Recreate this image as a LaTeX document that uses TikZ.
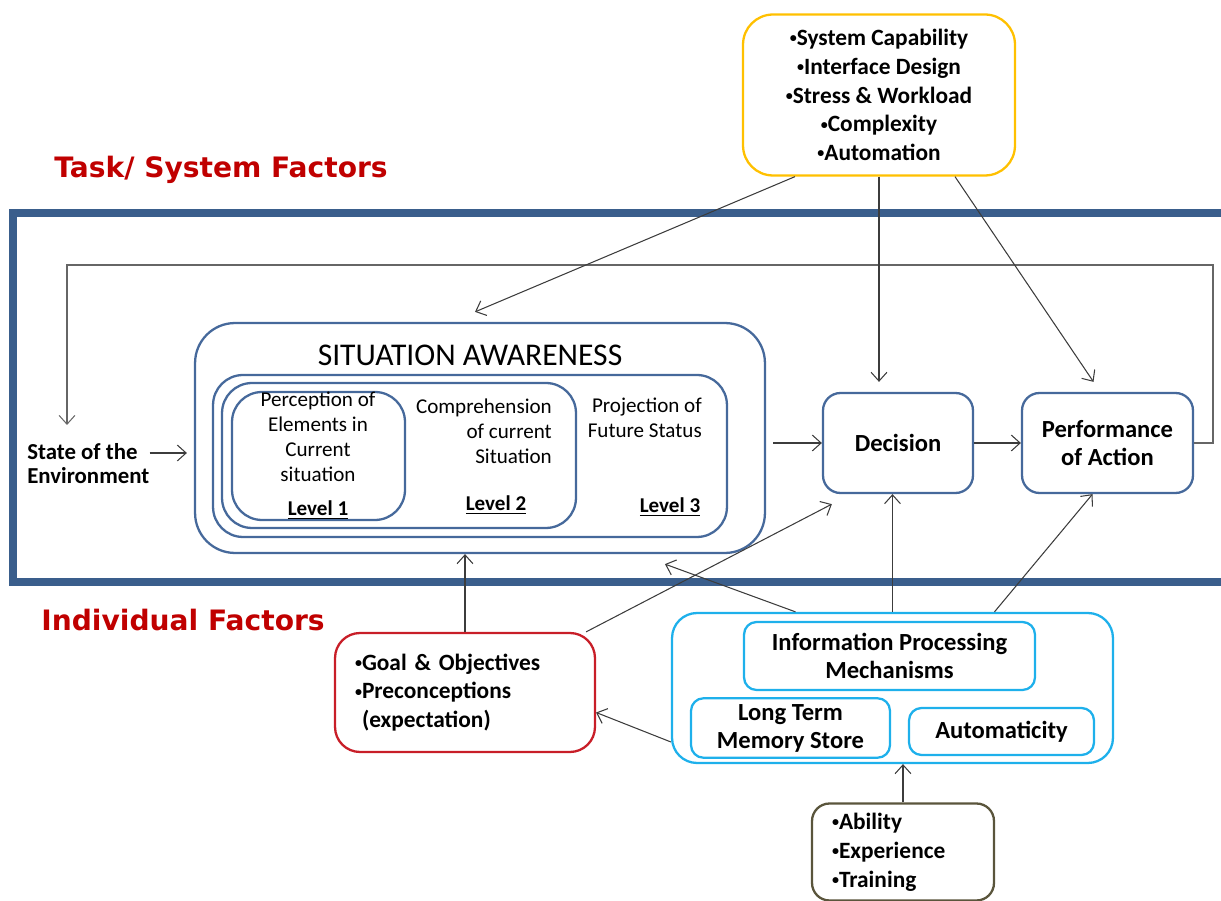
\documentclass[tikz,border=0pt]{standalone}
\usepackage{fontspec}
\setmainfont{Carlito}
\newfontfamily\headfont{DejaVu Sans}
\usetikzlibrary{positioning, arrows.meta}

\definecolor{frameblue}{RGB}{58,94,140}
\definecolor{boxblue}{RGB}{70,105,155}
\definecolor{sysyellow}{RGB}{255,192,0}
\definecolor{indcyan}{RGB}{30,176,235}
\definecolor{goalred}{RGB}{200,30,40}
\definecolor{titlered}{RGB}{192,0,0}
\definecolor{trainbrown}{RGB}{90,85,60}
\definecolor{linegray}{RGB}{60,60,60}

\newcommand{\blt}{\raisebox{1.6pt}{\fontsize{8}{8}\selectfont•}}

\begin{document}
\begin{tikzpicture}[x=0.02cm, y=-0.02cm, >={Straight Barb[length=5pt, width=9pt]},
    roundbox/.style={draw, line width=1.3pt, rounded corners=0.35cm},
    bluebox/.style={roundbox, draw=boxblue},
    cyanbox/.style={roundbox, draw=indcyan, rounded corners=0.25cm},
    levelbox/.style={draw=boxblue, line width=1.3pt, rounded corners=0.6cm},
    leveltext/.style={font=\fontsize{12}{14.2}\selectfont},
    levellabel/.style={font=\bfseries\fontsize{12}{14.2}\selectfont},
    boldtext/.style={font=\bfseries\fontsize{14}{15.9}\selectfont, align=center},
    listtext/.style={font=\bfseries\fontsize{13.3}{16.4}\selectfont},
    factortitle/.style={font=\headfont\bfseries\fontsize{16}{19}\selectfont, text=titlered},
    flow/.style={->, draw=linegray, line width=0.6pt}]
    \useasboundingbox (0,0) rectangle (1221,901);
    \clip (0,0) rectangle (1221,901);

    % task / system side
    \node[factortitle] (taskTitle) at (221,170) {Task/ System Factors};
    \node[roundbox, draw=sysyellow, rounded corners=0.6cm, listtext, align=center,
          minimum width=5.44cm, minimum height=3.22cm] (sys) at (879,95)
          {\blt System Capability\\\blt Interface Design\\\blt Stress \& Workload\\\blt Complexity\\\blt Automation};
    \draw[frameblue, line width=4pt] (13,213) rectangle (1250,582);

    % situation awareness
    \node[bluebox, rounded corners=0.8cm, minimum width=11.4cm, minimum height=4.6cm] (sa) at (480,438) {};
    \node[font=\fontsize{18}{20}\selectfont] (saTitle) at (470,355) {SITUATION AWARENESS};
    \node[levelbox, minimum width=10.28cm, minimum height=3.24cm] (lvlThree) at (470,456) {};
    \node[levelbox, minimum width=7.08cm, minimum height=2.9cm] (lvlTwo) at (399,455.5) {};
    \node[levelbox, minimum width=3.46cm, minimum height=2.56cm] (lvlOne) at (318.5,456) {};
    \node[leveltext, align=center] (percText) at (318,437) {Perception of\\Elements in\\Current\\situation};
    \node[levellabel] (lvlOneLabel) at (318,510) {\underline{Level 1}};
    \node[leveltext, align=right, anchor=east] (compText) at (558,431) {Comprehension\\of current\\Situation};
    \node[levellabel] (lvlTwoLabel) at (496,505) {\underline{Level 2}};
    \node[leveltext, align=right, anchor=east] (projText) at (708,418) {Projection of\\Future Status};
    \node[levellabel] (lvlThreeLabel) at (670,507) {\underline{Level 3}};

    \node[anchor=north west, inner sep=0pt, align=left, font=\bfseries\fontsize{13}{13.5}\selectfont] (env)
          at (27,443) {State of the\\Environment};
    \node[bluebox, boldtext, minimum width=3cm, minimum height=2cm] (dec) at (898,443) {Decision};
    \node[bluebox, boldtext, minimum width=3.42cm, minimum height=2cm] (perf) at (1107.5,443) {Performance\\of Action};

    % individual side
    \node[factortitle] (indTitle) at (183,620) {Individual Factors};
    \node[roundbox, draw=goalred, rounded corners=0.5cm, listtext, align=left, inner xsep=0.4cm,
          text width=4.4cm, minimum height=2.38cm] (goal) at (465,692.5)
          {\blt Goal \& Objectives\\\blt Preconceptions\\\phantom{\blt}(expectation)};
    \node[cyanbox, rounded corners=0.5cm, minimum width=8.82cm, minimum height=3cm] (ind) at (892.5,688) {};
    \node[cyanbox, boldtext, minimum width=5.82cm, minimum height=1.36cm] (info) at (889.5,656)
          {Information Processing\\Mechanisms};
    \node[cyanbox, boldtext, minimum width=3.98cm, minimum height=1.12cm] (ltm) at (790.5,728)
          {Long Term\\Memory Store};
    \node[cyanbox, boldtext, minimum width=3.7cm, minimum height=0.94cm] (auto) at (1001.5,731.5) {Automaticity};
    \node[roundbox, draw=trainbrown, listtext, align=left, inner xsep=0.4cm,
          text width=2.84cm, minimum height=1.94cm] (train) at (903,852)
          {\blt Ability\\\blt Experience\\\blt Training};

    \coordinate (envOut) at ([yshift=-0.2cm]env.north east);
    \coordinate (envTop) at (67,425);

    % connectors
    \draw[flow, shorten >=4pt] (envOut) -- (envOut -| sa.west);
    \draw[flow, shorten <=4pt] (sa.east |- dec.west) -- (dec.west);
    \draw[flow] (dec.east) -- (perf.west);
    \draw[flow, draw=gray!80!black] (perf.east) -| (1213,265) -| (envTop);
    \draw[flow] ([xshift=-1.68cm]sys.south) -- ([shift={(-0.1cm,0.2cm)}]sa.north);
    \draw[flow, shorten >=0.2cm] (sys.south) -- (sys.south |- dec.north);
    \draw[flow] ([xshift=1.52cm]sys.south) -- ([shift={(-0.28cm,0.2cm)}]perf.north);
    \draw[flow] (goal.north) -- (goal.north |- sa.south);
    \draw[flow] ([xshift=-0.2cm]goal.north east) -- ([shift={(0.2cm,-0.2cm)}]dec.south west);
    \draw[flow] ([xshift=-1.94cm]ind.north) -- ([shift={(3.7cm,-0.2cm)}]sa.south);
    \draw[flow] (ind.north) -- (ind.north |- dec.south);
    \draw[flow] ([xshift=2.04cm]ind.north) -- ([xshift=-0.3cm]perf.south);
    \draw[flow] ([yshift=-1.08cm]ind.west) -- ([yshift=-0.4cm]goal.east);
    \draw[flow] (train.north) -- (train.north |- ind.south);
\end{tikzpicture}
\end{document}
